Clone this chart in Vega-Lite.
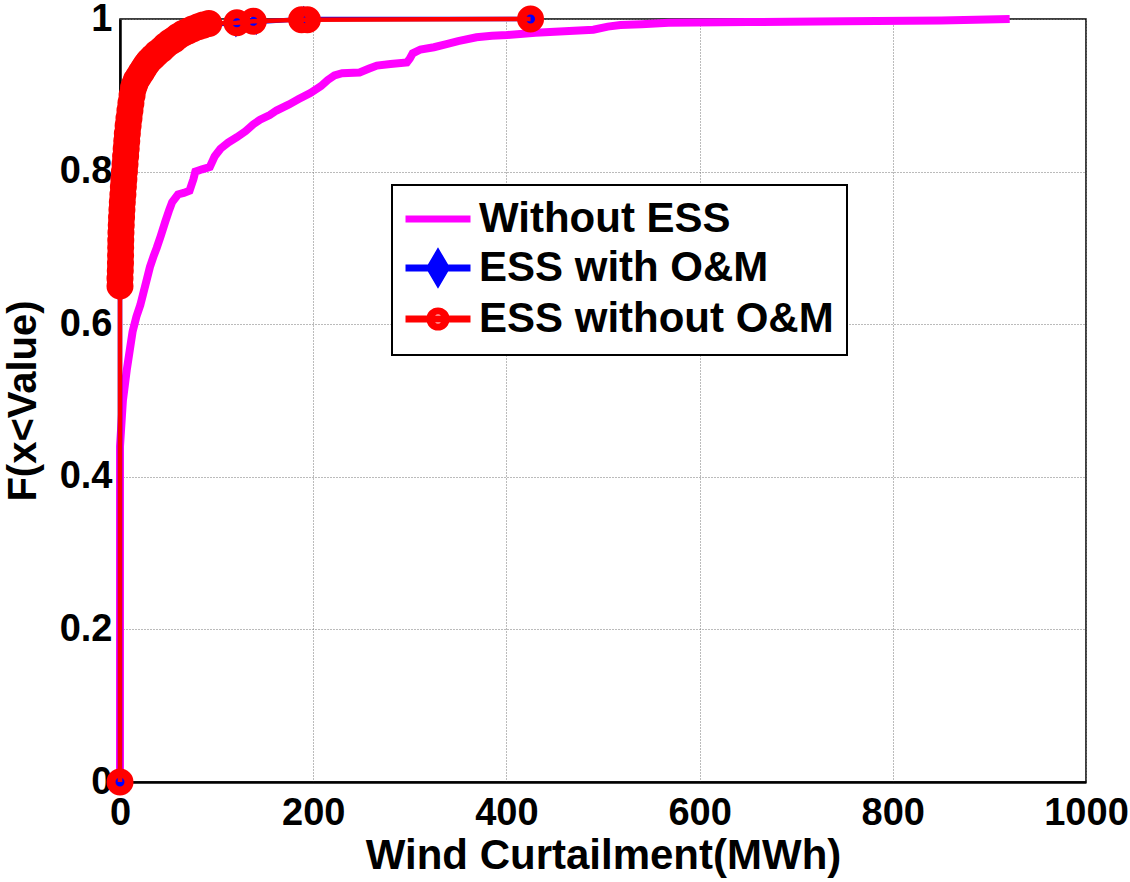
{
 "$schema": "https://vega.github.io/schema/vega-lite/v6.json",
 "width": 966,
 "height": 763,
 "autosize": {"type": "none"},
 "padding": {"left": 120, "top": 19, "right": 44, "bottom": 100},
 "background": "white",
 "config": {
  "font": "Liberation Sans",
  "view": {"stroke": "black", "strokeWidth": 1.5},
  "axis": {
   "labelFont": "Liberation Sans", "labelFontWeight": "bold", "labelFontSize": 38, "labelColor": "black",
   "titleFont": "Liberation Sans", "titleFontWeight": "bold", "titleFontSize": 40, "titleColor": "black",
   "domainColor": "black", "domainWidth": 2.5, "ticks": false, "labelFlush": false, "labelOverlap": false,
   "gridColor": "#777777", "gridDash": [1, 2], "gridWidth": 1, "gridOpacity": 1
  }
 },
 "data": {"values": [
  {"s": "Without ESS", "x": 0, "y": 0},
  {"s": "Without ESS", "x": 0, "y": 0.44},
  {"s": "Without ESS", "x": 1, "y": 0.46},
  {"s": "Without ESS", "x": 2, "y": 0.48},
  {"s": "Without ESS", "x": 3, "y": 0.5},
  {"s": "Without ESS", "x": 5, "y": 0.52},
  {"s": "Without ESS", "x": 7, "y": 0.54},
  {"s": "Without ESS", "x": 10, "y": 0.565},
  {"s": "Without ESS", "x": 13, "y": 0.59},
  {"s": "Without ESS", "x": 17, "y": 0.61},
  {"s": "Without ESS", "x": 21, "y": 0.625},
  {"s": "Without ESS", "x": 24, "y": 0.64},
  {"s": "Without ESS", "x": 28, "y": 0.66},
  {"s": "Without ESS", "x": 31, "y": 0.675},
  {"s": "Without ESS", "x": 35, "y": 0.69},
  {"s": "Without ESS", "x": 38, "y": 0.7},
  {"s": "Without ESS", "x": 42, "y": 0.715},
  {"s": "Without ESS", "x": 47, "y": 0.735},
  {"s": "Without ESS", "x": 51, "y": 0.75},
  {"s": "Without ESS", "x": 54, "y": 0.76},
  {"s": "Without ESS", "x": 60, "y": 0.77},
  {"s": "Without ESS", "x": 66, "y": 0.772},
  {"s": "Without ESS", "x": 72, "y": 0.775},
  {"s": "Without ESS", "x": 76, "y": 0.79},
  {"s": "Without ESS", "x": 78, "y": 0.8},
  {"s": "Without ESS", "x": 85, "y": 0.803},
  {"s": "Without ESS", "x": 93, "y": 0.806},
  {"s": "Without ESS", "x": 98, "y": 0.82},
  {"s": "Without ESS", "x": 104, "y": 0.83},
  {"s": "Without ESS", "x": 112, "y": 0.838},
  {"s": "Without ESS", "x": 121, "y": 0.845},
  {"s": "Without ESS", "x": 130, "y": 0.853},
  {"s": "Without ESS", "x": 138, "y": 0.862},
  {"s": "Without ESS", "x": 145, "y": 0.868},
  {"s": "Without ESS", "x": 155, "y": 0.874},
  {"s": "Without ESS", "x": 162, "y": 0.88},
  {"s": "Without ESS", "x": 175, "y": 0.888},
  {"s": "Without ESS", "x": 185, "y": 0.895},
  {"s": "Without ESS", "x": 197, "y": 0.903},
  {"s": "Without ESS", "x": 208, "y": 0.912},
  {"s": "Without ESS", "x": 215, "y": 0.92},
  {"s": "Without ESS", "x": 222, "y": 0.926},
  {"s": "Without ESS", "x": 230, "y": 0.929},
  {"s": "Without ESS", "x": 248, "y": 0.93},
  {"s": "Without ESS", "x": 258, "y": 0.935},
  {"s": "Without ESS", "x": 266, "y": 0.939},
  {"s": "Without ESS", "x": 280, "y": 0.941},
  {"s": "Without ESS", "x": 297, "y": 0.943},
  {"s": "Without ESS", "x": 300, "y": 0.948},
  {"s": "Without ESS", "x": 303, "y": 0.955},
  {"s": "Without ESS", "x": 311, "y": 0.96},
  {"s": "Without ESS", "x": 325, "y": 0.963},
  {"s": "Without ESS", "x": 338, "y": 0.967},
  {"s": "Without ESS", "x": 350, "y": 0.971},
  {"s": "Without ESS", "x": 369, "y": 0.976},
  {"s": "Without ESS", "x": 385, "y": 0.978},
  {"s": "Without ESS", "x": 401, "y": 0.979},
  {"s": "Without ESS", "x": 430, "y": 0.982},
  {"s": "Without ESS", "x": 460, "y": 0.984},
  {"s": "Without ESS", "x": 490, "y": 0.986},
  {"s": "Without ESS", "x": 505, "y": 0.99},
  {"s": "Without ESS", "x": 518, "y": 0.992},
  {"s": "Without ESS", "x": 540, "y": 0.993},
  {"s": "Without ESS", "x": 568, "y": 0.995},
  {"s": "Without ESS", "x": 650, "y": 0.996},
  {"s": "Without ESS", "x": 750, "y": 0.997},
  {"s": "Without ESS", "x": 850, "y": 0.998},
  {"s": "Without ESS", "x": 921, "y": 1.0},
  {"s": "ESS with O&M", "x": 0, "y": 0},
  {"s": "ESS with O&M", "x": 0, "y": 0.645},
  {"s": "ESS with O&M", "x": 0, "y": 0.655},
  {"s": "ESS with O&M", "x": 0.2, "y": 0.665},
  {"s": "ESS with O&M", "x": 0.4, "y": 0.675},
  {"s": "ESS with O&M", "x": 0.6, "y": 0.69},
  {"s": "ESS with O&M", "x": 0.8, "y": 0.71},
  {"s": "ESS with O&M", "x": 1.3, "y": 0.73},
  {"s": "ESS with O&M", "x": 2, "y": 0.75},
  {"s": "ESS with O&M", "x": 3, "y": 0.77},
  {"s": "ESS with O&M", "x": 4, "y": 0.79},
  {"s": "ESS with O&M", "x": 5.2, "y": 0.81},
  {"s": "ESS with O&M", "x": 6.4, "y": 0.83},
  {"s": "ESS with O&M", "x": 7.6, "y": 0.85},
  {"s": "ESS with O&M", "x": 9.3, "y": 0.87},
  {"s": "ESS with O&M", "x": 11.3, "y": 0.89},
  {"s": "ESS with O&M", "x": 14, "y": 0.91},
  {"s": "ESS with O&M", "x": 17, "y": 0.92},
  {"s": "ESS with O&M", "x": 22, "y": 0.93},
  {"s": "ESS with O&M", "x": 27, "y": 0.94},
  {"s": "ESS with O&M", "x": 34, "y": 0.95},
  {"s": "ESS with O&M", "x": 43, "y": 0.96},
  {"s": "ESS with O&M", "x": 52, "y": 0.97},
  {"s": "ESS with O&M", "x": 60, "y": 0.977},
  {"s": "ESS with O&M", "x": 70, "y": 0.984},
  {"s": "ESS with O&M", "x": 81, "y": 0.99},
  {"s": "ESS with O&M", "x": 92, "y": 0.994},
  {"s": "ESS with O&M", "x": 120, "y": 0.993},
  {"s": "ESS with O&M", "x": 141, "y": 0.996},
  {"s": "ESS with O&M", "x": 190, "y": 1.0},
  {"s": "ESS with O&M", "x": 425, "y": 1.0},
  {"s": "ESS without O&M", "x": 0, "y": 0},
  {"s": "ESS without O&M", "x": 0, "y": 0.65},
  {"s": "ESS without O&M", "x": 0, "y": 0.66},
  {"s": "ESS without O&M", "x": 0.3, "y": 0.67},
  {"s": "ESS without O&M", "x": 0.5, "y": 0.68},
  {"s": "ESS without O&M", "x": 0.6, "y": 0.69},
  {"s": "ESS without O&M", "x": 0.7, "y": 0.7},
  {"s": "ESS without O&M", "x": 0.8, "y": 0.71},
  {"s": "ESS without O&M", "x": 1, "y": 0.72},
  {"s": "ESS without O&M", "x": 1.3, "y": 0.73},
  {"s": "ESS without O&M", "x": 1.6, "y": 0.74},
  {"s": "ESS without O&M", "x": 2, "y": 0.75},
  {"s": "ESS without O&M", "x": 2.4, "y": 0.76},
  {"s": "ESS without O&M", "x": 3, "y": 0.77},
  {"s": "ESS without O&M", "x": 3.5, "y": 0.78},
  {"s": "ESS without O&M", "x": 4, "y": 0.79},
  {"s": "ESS without O&M", "x": 4.6, "y": 0.8},
  {"s": "ESS without O&M", "x": 5.2, "y": 0.81},
  {"s": "ESS without O&M", "x": 5.8, "y": 0.82},
  {"s": "ESS without O&M", "x": 6.4, "y": 0.83},
  {"s": "ESS without O&M", "x": 7, "y": 0.84},
  {"s": "ESS without O&M", "x": 7.6, "y": 0.85},
  {"s": "ESS without O&M", "x": 8.4, "y": 0.86},
  {"s": "ESS without O&M", "x": 9.3, "y": 0.87},
  {"s": "ESS without O&M", "x": 10.3, "y": 0.88},
  {"s": "ESS without O&M", "x": 11.3, "y": 0.89},
  {"s": "ESS without O&M", "x": 12.5, "y": 0.9},
  {"s": "ESS without O&M", "x": 14, "y": 0.91},
  {"s": "ESS without O&M", "x": 15.5, "y": 0.915},
  {"s": "ESS without O&M", "x": 17, "y": 0.92},
  {"s": "ESS without O&M", "x": 19.5, "y": 0.925},
  {"s": "ESS without O&M", "x": 22, "y": 0.93},
  {"s": "ESS without O&M", "x": 24.5, "y": 0.935},
  {"s": "ESS without O&M", "x": 27, "y": 0.94},
  {"s": "ESS without O&M", "x": 30, "y": 0.945},
  {"s": "ESS without O&M", "x": 34, "y": 0.95},
  {"s": "ESS without O&M", "x": 38, "y": 0.955},
  {"s": "ESS without O&M", "x": 43, "y": 0.96},
  {"s": "ESS without O&M", "x": 47, "y": 0.965},
  {"s": "ESS without O&M", "x": 52, "y": 0.97},
  {"s": "ESS without O&M", "x": 56, "y": 0.973},
  {"s": "ESS without O&M", "x": 60, "y": 0.977},
  {"s": "ESS without O&M", "x": 65, "y": 0.981},
  {"s": "ESS without O&M", "x": 70, "y": 0.984},
  {"s": "ESS without O&M", "x": 75, "y": 0.987},
  {"s": "ESS without O&M", "x": 81, "y": 0.99},
  {"s": "ESS without O&M", "x": 86, "y": 0.992},
  {"s": "ESS without O&M", "x": 92, "y": 0.994},
  {"s": "ESS without O&M", "x": 121, "y": 0.995},
  {"s": "ESS without O&M", "x": 138, "y": 0.997},
  {"s": "ESS without O&M", "x": 188, "y": 0.999},
  {"s": "ESS without O&M", "x": 194, "y": 0.999},
  {"s": "ESS without O&M", "x": 425, "y": 1.0}
 ]},
 "encoding": {
  "x": {"field": "x", "type": "quantitative", "scale": {"domain": [0, 1000], "nice": false},
   "axis": {"values": [0, 200, 400, 600, 800, 1000], "format": "d", "title": "Wind Curtailment(MWh)", "titleFontSize": 42, "labelPadding": 12, "titlePadding": 3}},
  "y": {"field": "y", "type": "quantitative", "scale": {"domain": [0, 1], "nice": false},
   "axis": {"values": [0, 0.2, 0.4, 0.6, 0.8, 1], "format": "~g", "title": "F(x<Value)", "labelPadding": 8, "titlePadding": 16}}
 },
 "layer": [
  {
   "transform": [{"filter": "datum.s === 'Without ESS'"}],
   "mark": {"type": "line", "strokeWidth": 8, "interpolate": "linear"},
   "encoding": {
    "stroke": {"field": "s", "type": "nominal",
     "scale": {"domain": ["Without ESS", "ESS with O&M", "ESS without O&M"], "range": ["#ff00ff", "#0000ff", "#ff0000"]},
     "legend": {
      "title": null, "orient": "none", "legendX": 272, "legendY": 166,
      "padding": 13, "fillColor": "white", "strokeColor": "black",
      "labelFont": "Liberation Sans", "labelFontSize": 42, "labelFontWeight": "bold", "labelColor": "black", "labelLimit": 0,
      "symbolSize": 1056, "symbolStrokeWidth": 7, "symbolOffset": 12, "labelOffset": 20, "rowPadding": 0,
      "encode": {
       "legend": {"update": {"strokeWidth": {"value": 2}}},
       "symbols": {"update": {
        "shape": {"signal": "datum.value === 'Without ESS' ? 'M-2,0H2' : datum.value === 'ESS with O&M' ? 'M-2,0H2M0,-0.85L0.5,0L0,0.85L-0.5,0Z' : 'M-2,0H2M-0.5,0A0.5,0.5 0 1,1 0.5,0A0.5,0.5 0 1,1 -0.5,0'"},
        "fill": {"signal": "datum.value === 'ESS with O&M' ? '#0000ff' : 'transparent'"},
        "opacity": {"value": 1}
       }}
      }
     }
    },
    "order": {"value": null}
   }
  },
  {
   "transform": [{"filter": "datum.s === 'ESS with O&M'"}],
   "mark": {"type": "line", "strokeWidth": 4.5},
   "encoding": {
    "stroke": {"field": "s", "type": "nominal"},
    "order": {"value": null}
   }
  },
  {
   "transform": [{"filter": "datum.s === 'ESS with O&M'"}],
   "mark": {"type": "point", "shape": "M0,-1L0.6,0L0,1L-0.6,0Z", "filled": true, "color": "#0000ff", "size": 700, "opacity": 1}
  },
  {
   "transform": [{"filter": "datum.s === 'ESS without O&M'"}],
   "mark": {"type": "line", "strokeWidth": 4.5},
   "encoding": {
    "stroke": {"field": "s", "type": "nominal"},
    "order": {"value": null}
   }
  },
  {
   "transform": [{"filter": "datum.s === 'ESS without O&M'"}],
   "mark": {"type": "point", "shape": "circle", "filled": false, "color": "#ff0000", "strokeWidth": 9, "size": 324, "opacity": 1}
  }
 ]
}
